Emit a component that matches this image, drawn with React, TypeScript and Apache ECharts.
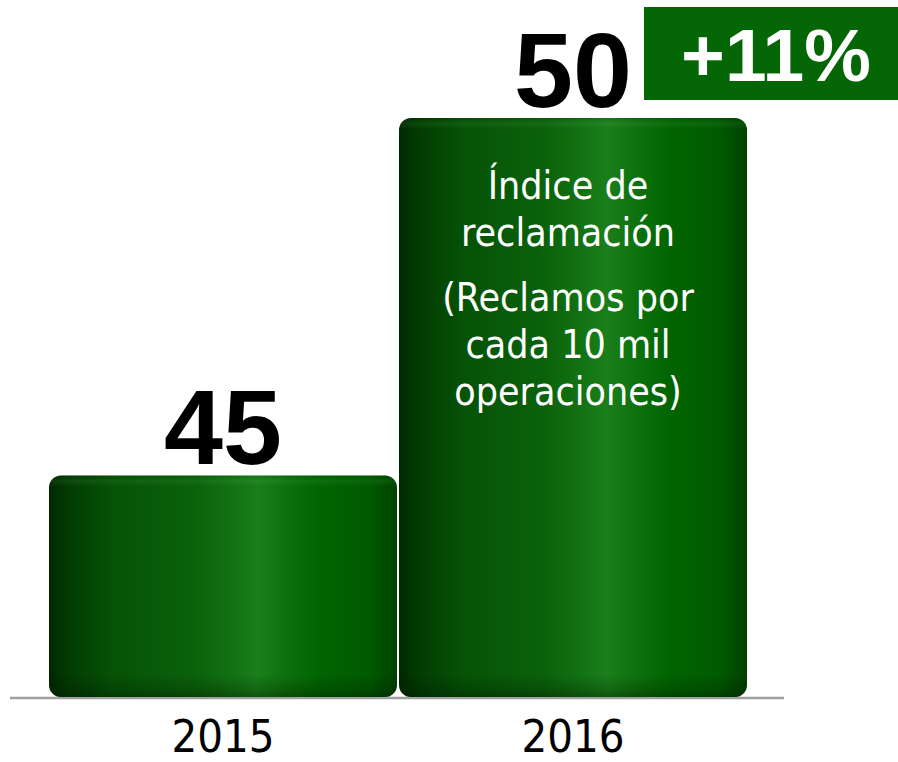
import React, { useEffect, useRef } from "react";
import * as echarts from "echarts";

const years = ["2015", "2016"];
const values = [45, 50];
const changeLabel = "+11%";
const noteLines = ["Índice de", "reclamación", "", "(Reclamos por", "cada 10 mil", "operaciones)"];

const Y_MIN = 41.9;
const Y_MAX = 50;
const PLOT_H = 762 - 118 - 65;

const barGradient = new echarts.graphic.LinearGradient(0, 0, 1, 0, [
  { offset: 0, color: "#002800" },
  { offset: 0.05, color: "#023a02" },
  { offset: 0.18, color: "#055205" },
  { offset: 0.42, color: "#0b620b" },
  { offset: 0.52, color: "#127212" },
  { offset: 0.6, color: "#1a7f1a" },
  { offset: 0.69, color: "#0c700c" },
  { offset: 0.78, color: "#006500" },
  { offset: 0.92, color: "#005a00" },
  { offset: 1, color: "#004200" },
]);

function shadeFor(v: number) {
  const h = ((v - Y_MIN) / (Y_MAX - Y_MIN)) * PLOT_H;
  const f = (px: number) => Math.min(1, Math.max(0, px / h));
  return new echarts.graphic.LinearGradient(0, 0, 0, 1, [
    { offset: 0, color: "rgba(0,0,0,0.10)" },
    { offset: f(6), color: "rgba(120,220,120,0.10)" },
    { offset: f(14), color: "rgba(0,0,0,0)" },
    { offset: 1 - f(22), color: "rgba(0,0,0,0)" },
    { offset: 1 - f(8), color: "rgba(0,20,0,0.22)" },
    { offset: 1, color: "rgba(0,20,0,0.4)" },
  ]);
}

export default function App() {
  const ref = useRef<HTMLDivElement>(null);
  useEffect(() => {
    if (!ref.current) return;
    const chart = echarts.init(ref.current, undefined, { renderer: "svg" });
    const last = values.length - 1;
    const richText = noteLines
      .map((l) => (l === "" ? "{gap| }" : `{t|${l}}`))
      .join("\n");
    chart.setOption({
      animation: false,
      tooltip: { show: false },
      grid: { left: 48, right: 150, top: 118, bottom: 65, outerBoundsMode: "none", containLabel: false },
      xAxis: {
        type: "category",
        data: years,
        axisLine: { show: false },
        axisTick: { show: false },
        axisLabel: {
          color: "#000",
          fontSize: 45,
          lineHeight: 40,
          fontFamily: "'DejaVu Sans Condensed', sans-serif",
          margin: 19,
        },
      },
      yAxis: {
        type: "value",
        min: Y_MIN,
        max: Y_MAX,
        show: false,
        splitLine: { show: false },
      },
      graphic: [
        {
          type: "line",
          z: 0,
          shape: { x1: 10, y1: 698, x2: 784, y2: 698 },
          style: { stroke: "#a0a0a0", lineWidth: 2.5 },
        },
        {
          type: "rect",
          shape: { x: 644, y: 7, width: 254, height: 93 },
          style: { fill: "#046604" },
        },
        {
          type: "text",
          style: {
            text: changeLabel,
            x: 776,
            y: 55,
            align: "center",
            verticalAlign: "middle",
            font: "bold 75px 'Liberation Sans', Arial, sans-serif",
            fill: "#ffffff",
          },
        },
      ],
      series: [
        {
          type: "bar",
          data: values,
          barWidth: 348,
          barGap: "-100%",
          itemStyle: { color: barGradient, borderRadius: 12 },
          label: {
            show: true,
            position: "top",
            distance: -5,
            color: "#000",
            fontSize: 106,
            lineHeight: 106,
            fontWeight: "bold",
            fontFamily: "'Liberation Sans', Arial, sans-serif",
          },
          z: 2,
        },
        {
          type: "bar",
          data: values.map((v) => ({ value: v, itemStyle: { color: shadeFor(v) } })),
          barWidth: 348,
          barGap: "-100%",
          itemStyle: { borderRadius: 12 },
          label: { show: false },
          silent: true,
          z: 3,
        },
        {
          type: "bar",
          data: values.map((v, i) => (i === last ? v : "-")),
          barWidth: 348,
          barGap: "-100%",
          itemStyle: { color: "rgba(0,0,0,0)" },
          label: {
            show: true,
            position: "insideTop",
            distance: 44,
            offset: [-5, 0],
            formatter: richText,
            rich: {
              t: {
                color: "#ffffff",
                fontSize: 39,
                lineHeight: 47,
                fontFamily: "'DejaVu Sans Condensed', sans-serif",
              },
              gap: { fontSize: 1, lineHeight: 18 },
            },
          },
          z: 4,
        },
      ],
    });
    return () => chart.dispose();
  }, []);
  return (
    <div
      ref={ref}
      style={{ position: "absolute", left: 0, top: 0, width: 898, height: 762, background: "#fff" }}
    />
  );
}
